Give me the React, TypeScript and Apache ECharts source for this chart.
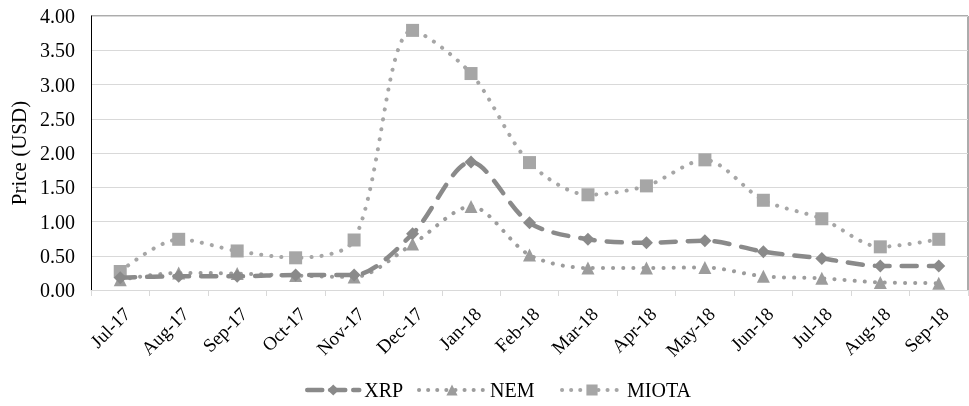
import React, { useEffect, useRef } from "react";
import * as echarts from "echarts";

const categories = ["Jul-17", "Aug-17", "Sep-17", "Oct-17", "Nov-17", "Dec-17", "Jan-18", "Feb-18", "Mar-18", "Apr-18", "May-18", "Jun-18", "Jul-18", "Aug-18", "Sep-18"];
const xrp = [0.18, 0.2, 0.2, 0.22, 0.22, 0.82, 1.87, 0.98, 0.74, 0.69, 0.72, 0.56, 0.46, 0.35, 0.35];
const nem = [0.15, 0.25, 0.24, 0.21, 0.19, 0.67, 1.22, 0.51, 0.32, 0.32, 0.33, 0.2, 0.17, 0.11, 0.1];
const miota = [0.27, 0.74, 0.57, 0.47, 0.73, 3.79, 3.16, 1.86, 1.39, 1.52, 1.9, 1.31, 1.04, 0.63, 0.74];
const yTicks = { min: 0, max: 4, interval: 0.5 };

const FONT = "'Liberation Serif', 'Times New Roman', serif";

const legendBase = {
  top: 375,
  itemHeight: 14,
  textStyle: { fontFamily: FONT, fontSize: 20, color: "#000" },
  itemGap: 8,
};

export default function App() {
  const ref = useRef<HTMLDivElement>(null);
  useEffect(() => {
    const chart = echarts.init(ref.current!, null, { renderer: "svg" });
    chart.setOption({
      animation: false,
      textStyle: { fontFamily: FONT },
      grid: { left: 91, top: 16, right: 1, bottom: 116, containLabel: false },
      legend: [
        { ...legendBase, left: 300, itemWidth: 52, data: [{ name: "XRP", lineStyle: { width: 4.5, type: [15, 8] } }] },
        { ...legendBase, left: 412, itemWidth: 66, data: [{ name: "NEM", lineStyle: { width: 4, type: [0.1, 9] } }] },
        { ...legendBase, left: 555, itemWidth: 60, data: [{ name: "MIOTA", lineStyle: { width: 4, type: [0.1, 9] } }] },
      ],
      xAxis: {
        type: "category",
        data: categories,
        boundaryGap: true,
        axisLine: { lineStyle: { color: "#d9d9d9", width: 1 } },
        axisTick: { show: true, alignWithLabel: false, length: 6, lineStyle: { color: "#d9d9d9" } },
        axisLabel: { rotate: 45, fontFamily: FONT, fontSize: 19, color: "#000", margin: 14, interval: 0, verticalAlign: "top" },
      },
      yAxis: {
        type: "value",
        min: yTicks.min,
        max: yTicks.max,
        interval: yTicks.interval,
        name: "Price (USD)",
        nameLocation: "middle",
        nameGap: 58,
        nameRotate: 90,
        nameTextStyle: { fontFamily: FONT, fontSize: 21, color: "#000" },
        axisLine: { show: true, lineStyle: { color: "#000", width: 1 } },
        axisTick: { show: false },
        splitLine: { lineStyle: { color: "#d9d9d9", width: 1 } },
        axisLabel: { fontFamily: FONT, fontSize: 20, color: "#000", margin: 16, formatter: (v: number) => v.toFixed(2) },
      },
      graphic: [
        { type: "line", shape: { x1: 91, y1: 16, x2: 968, y2: 16 }, style: { stroke: "#595959", lineWidth: 1 } },
        { type: "line", shape: { x1: 968, y1: 16, x2: 968, y2: 290 }, style: { stroke: "#595959", lineWidth: 1 } },
      ],
      series: [
        {
          name: "XRP",
          type: "line",
          data: xrp,
          smooth: 0.3,
          symbol: "diamond",
          symbolSize: 13,
          itemStyle: { color: "#8a8a8a" },
          lineStyle: { color: "#8a8a8a", width: 4.5, type: [15, 12], cap: "round" },
          z: 3,
        },
        {
          name: "NEM",
          type: "line",
          data: nem,
          smooth: 0.3,
          symbol: "triangle",
          symbolSize: 13,
          itemStyle: { color: "#9c9c9c" },
          lineStyle: { color: "#9c9c9c", width: 4, type: [0.1, 10], cap: "round" },
          z: 2,
        },
        {
          name: "MIOTA",
          type: "line",
          data: miota,
          smooth: 0.3,
          symbol: "rect",
          symbolSize: 13,
          itemStyle: { color: "#a6a6a6" },
          lineStyle: { color: "#a6a6a6", width: 4, type: [0.1, 10], cap: "round" },
          z: 1,
        },
      ],
    });
    return () => chart.dispose();
  }, []);
  return <div ref={ref} style={{ position: "fixed", left: 0, top: 0, width: 969, height: 406 }} />;
}
